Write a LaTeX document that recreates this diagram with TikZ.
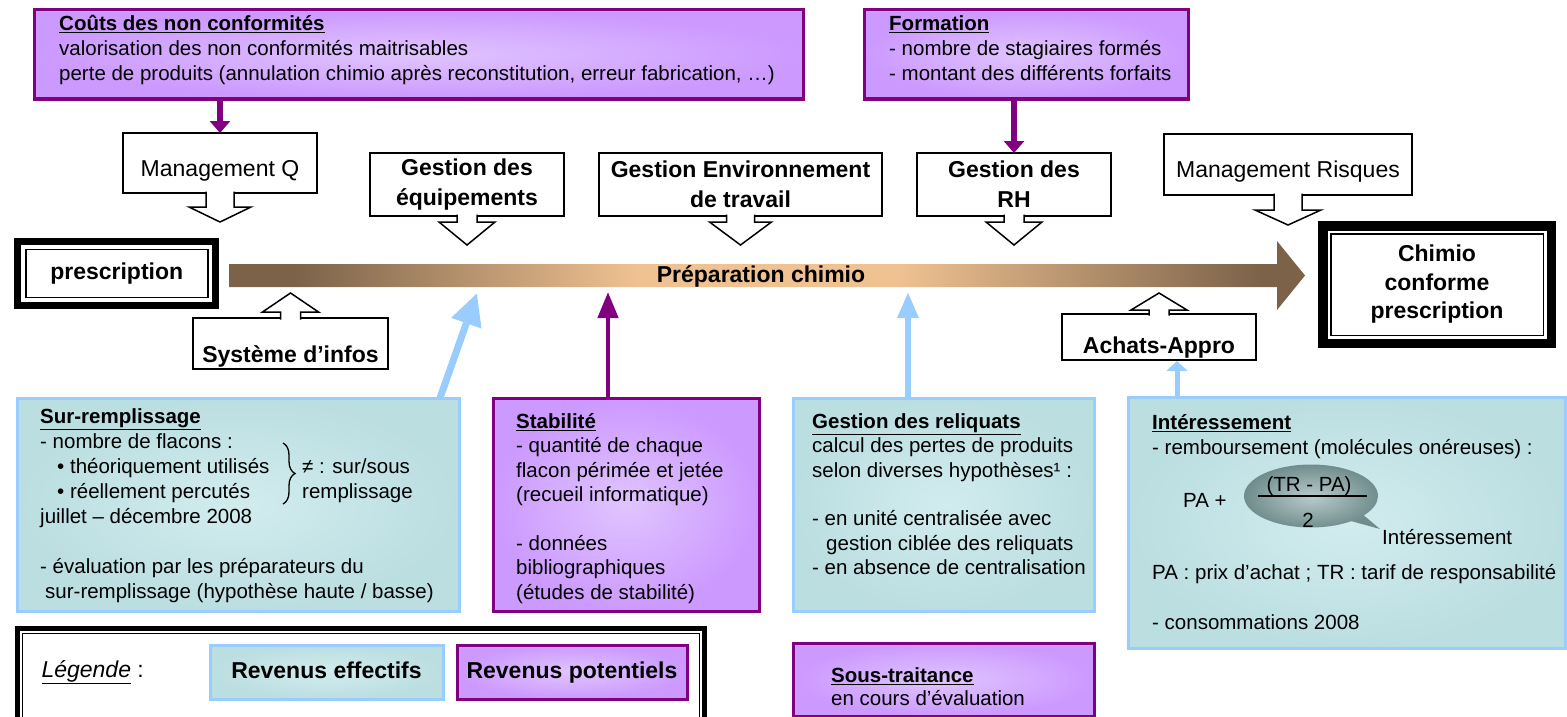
\documentclass[tikz,border=0pt]{standalone}
\usepackage{fontspec}
\setmainfont{Liberation Sans}
\usetikzlibrary{arrows.meta,shapes.callouts,decorations.pathreplacing}

\definecolor{prepdark}{RGB}{123,98,73}
\definecolor{preplight}{RGB}{240,194,146}
\pgfdeclarehorizontalshading{prepshade}{100bp}{color(0bp)=(prepdark); color(28bp)=(prepdark); color(44bp)=(preplight); color(56bp)=(preplight); color(73bp)=(prepdark); color(100bp)=(prepdark)}

% block arrow under / above a callout box: node, shaft half, head half, shaft, head
\newcommand{\downcall}[5]{%
  \path[draw,fill=white,line width=1.5pt] ([xshift=-#2pt,yshift=1.5pt]#1.south)
    -- ++(0,#4+1.5) -- ++(#2-#3,0) -- ++(#3,#5) -- ++(#3,-#5) -- ++(#2-#3,0) -- ++(0,-#4-1.5);}
\newcommand{\upcall}[5]{%
  \path[draw,fill=white,line width=1.5pt] ([xshift=-#2pt,yshift=-1.5pt]#1.north)
    -- ++(0,-#4-1.5) -- ++(#2-#3,0) -- ++(#3,-#5) -- ++(#3,#5) -- ++(#2-#3,0) -- ++(0,#4+1.5);}

\begin{document}
\begin{tikzpicture}[x=1pt,y=-1pt,
  pbox/.style={draw=violetdark, line width=3pt, inner color=violetlight, outer color=violetmid, inner sep=0pt, outer sep=0pt},
  bbox/.style={draw=skyline, line width=3pt, inner color=teallight, outer color=tealmid, inner sep=0pt, outer sep=0pt},
  txt/.style={font=\fontsize{20.5}{25}\selectfont, align=left, inner sep=0pt, anchor=north west},
  callbox/.style={draw, line width=1.5pt, fill=white, font=\fontsize{23}{30}\selectfont, align=center, inner sep=0pt, outer sep=0pt},
  framed/.style={draw, fill=white, inner sep=0pt, outer sep=0pt, font=\fontsize{23}{28.5}\selectfont\bfseries, align=center},
  legendkey/.style={minimum height=54pt, text height=17pt, text depth=5pt, font=\fontsize{23}{28}\selectfont\bfseries},
  purplearrow/.style={draw=violetdark, line width=6pt, -{Triangle[width=20pt,length=12pt]}},
  bluearrow/.style={draw=skyline, line width=6pt, -{Triangle[width=20pt,length=26pt]}}]
\definecolor{violetdark}{RGB}{128,0,128}
\definecolor{violetmid}{RGB}{204,153,255}
\definecolor{violetlight}{RGB}{224,196,255}
\definecolor{skyline}{RGB}{153,204,255}
\definecolor{tealmid}{RGB}{187,222,225}
\definecolor{teallight}{RGB}{210,236,238}
\definecolor{bubbledark}{RGB}{112,140,140}
\definecolor{bubblelight}{RGB}{184,204,204}

\useasboundingbox (0,0) rectangle (1567,717);

% revenue boxes
\node[pbox, minimum width=769pt, minimum height=89pt, anchor=north west] (couts) at (34,10) {};
\node[pbox, minimum width=324pt, minimum height=89pt, anchor=north west] (form) at (864,10) {};
\node[bbox, minimum width=442pt, minimum height=213pt, anchor=north west] (sur) at (17,398) {};
\node[pbox, minimum width=266pt, minimum height=213pt, anchor=north west] (stab) at (493,398) {};
\node[bbox, minimum width=301pt, minimum height=213pt, anchor=north west] (reliq) at (793,398) {};
\node[bbox, minimum width=437pt, minimum height=251pt, anchor=north west] (interess) at (1128,397) {};
\node[pbox, minimum width=301pt, minimum height=73pt, anchor=north west] (sous) at (793,643) {};

\node[txt] (coutstext) at (59,13) {\strut\underline{\textbf{Coûts des non conformités}}\\valorisation des non conformités maitrisables\\perte de produits (annulation chimio après reconstitution, erreur fabrication, …)};
\node[txt] (formtext) at (889,13) {\strut\underline{\textbf{Formation}}\\- nombre de stagiaires formés\\- montant des différents forfaits};
\node[txt] (surtext) at (40,406) {\strut\underline{\textbf{Sur-remplissage}}\\- nombre de flacons :\\\hspace*{17pt}• théoriquement utilisés\\\hspace*{17pt}• réellement percutés\\juillet – décembre 2008\\[25pt]- évaluation par les préparateurs du\\\hspace*{5pt}sur-remplissage (hypothèse haute / basse)};
\draw[decorate, decoration={brace, amplitude=12pt}, line width=1.3pt] (283,443) -- (283,504);
\node[txt] (ecart) at (302,456) {\strut≠ : sur/sous\\remplissage};
\node[txt, font=\fontsize{20.5}{24.4}\selectfont] (stabtext) at (516,411) {\strut\underline{\textbf{Stabilité}}\\- quantité de chaque\\flacon périmée et jetée\\(recueil informatique)\\[24.4pt]- données\\bibliographiques\\(études de stabilité)};
\node[txt, font=\fontsize{20.5}{24.4}\selectfont] (reliqtext) at (812,411) {\strut\underline{\textbf{Gestion des reliquats}}\\calcul des pertes de produits\\selon diverses hypothèses¹ :\\[24.4pt]- en unité centralisée avec\\\hspace*{14pt}gestion ciblée des reliquats\\- en absence de centralisation};
\node[txt] (interesstext) at (1152,412) {\strut\underline{\textbf{Intéressement}}\\- remboursement (molécules onéreuses) :\\[100pt]PA : prix d’achat ; TR : tarif de responsabilité\\[25pt]- consommations 2008};
\node[txt, anchor=west] (pa) at (1183,500) {PA +};
\node[ellipse callout, inner color=bubblelight, outer color=bubbledark, minimum width=134pt, minimum height=63pt, inner sep=0pt, callout absolute pointer={(1380,529)}] (bubble) at (1311,496) {};
\node[txt, anchor=center] (diff) at (1309,486) {(TR - PA)};
\node[txt, anchor=center] (half) at (1308,520) {2};
\draw[line width=1.5pt] ([xshift=-53pt]bubble.center) -- ([xshift=56pt]bubble.center);
\node[txt, anchor=west] (interesslabel) at (1382,537) {Intéressement};
\node[txt, font=\fontsize{20.5}{23}\selectfont] (soustext) at (831,666) {\strut\underline{\textbf{Sous-traitance}}\\en cours d’évaluation};

% main process arrow
\path[shading=prepshade] (229,264) -- (1277,264) -- (1277,241) -- (1305,275.5) -- (1277,310) -- (1277,287) -- (229,287) -- cycle;
\node[font=\fontsize{23}{28}\selectfont\bfseries] (prep) at (761,276) {Préparation chimio};

\node[framed, line width=7pt, minimum width=198pt, minimum height=64pt] (presc) at (116.75,273.5) {prescription};
\draw[line width=1.5pt] ([xshift=8pt,yshift=-8pt]presc.north west) rectangle ([xshift=-8pt,yshift=8pt]presc.south east);
\node[framed, line width=9.5pt, minimum width=228.5pt, minimum height=117.5pt] (chimio) at (1437,284.5) {Chimio\\conforme\\prescription};
\draw[line width=1.5pt] ([xshift=8pt,yshift=-8pt]chimio.north west) rectangle ([xshift=-8pt,yshift=8pt]chimio.south east);

% callouts
\node[callbox, minimum width=194pt, minimum height=60pt, text height=43pt, text depth=17pt] (mq) at (220,163) {Management Q};
\node[callbox, minimum width=194pt, minimum height=63pt, font=\fontsize{23}{30}\selectfont\bfseries] (equip) at (467,184.5) {Gestion des\\équipements};
\node[callbox, minimum width=283pt, minimum height=63pt, font=\fontsize{23}{30}\selectfont\bfseries] (env) at (740.5,184.5) {Gestion Environnement\\de travail};
\node[callbox, minimum width=194pt, minimum height=63pt, font=\fontsize{23}{30}\selectfont\bfseries] (rh) at (1014,184.5) {Gestion des\\RH};
\node[callbox, minimum width=248pt, minimum height=61pt, text height=43.5pt, text depth=17.5pt] (mr) at (1288,164.5) {Management Risques};
\node[callbox, minimum width=195pt, minimum height=51pt, text height=44pt, text depth=7pt, font=\fontsize{23}{30}\selectfont\bfseries] (si) at (290.5,343.5) {Système d’infos};
\node[callbox, minimum width=194pt, minimum height=46pt, text height=39pt, text depth=7pt, font=\fontsize{23}{30}\selectfont\bfseries] (achats) at (1159,337) {Achats-Appro};
\downcall{mq}{14}{31}{14}{15}
\downcall{equip}{10}{28}{6}{23}
\downcall{env}{14}{31}{6}{23}
\downcall{rh}{10}{28}{6}{23}
\downcall{mr}{14}{33}{15}{15}
\upcall{si}{10}{28}{6}{19}
\upcall{achats}{10}{28}{4}{17}

% links to the process
\coordinate (hitsur) at (477,293);
\coordinate (hitstab) at (608,292);
\coordinate (hitrel) at (908,292);
\coordinate (hitach) at (1177,361);
\path[purplearrow] (mq.north |- couts.south) -- (mq.north);
\path[purplearrow] (rh.north |- form.south) -- (rh.north);
\path[draw=skyline, line width=7pt, -{Triangle[width=30pt,length=32pt]}] ([xshift=-19pt]sur.north east) -- (hitsur);
\path[purplearrow, line width=4.5pt, -{Triangle[width=20pt,length=26pt]}] (hitstab |- stab.north) -- (hitstab);
\path[bluearrow] (hitrel |- reliq.north) -- (hitrel);
\path[bluearrow, line width=5pt, -{Triangle[width=21pt,length=10pt]}] (hitach |- interess.north) -- (hitach);

% legend
\node[framed, line width=5pt, minimum width=687pt, minimum height=100pt, anchor=north west] (legend) at (17.5,628.5) {};
\draw[line width=1pt] ([xshift=5pt,yshift=-5pt]legend.north west) rectangle ([xshift=-5pt,yshift=5pt]legend.south east);
\node[font=\fontsize{23}{28}\selectfont, anchor=west] (legendlabel) at (38,672) {\underline{\textit{Légende}} :};
\node[bbox, legendkey, minimum width=233pt] (effectifs) at (326.5,672) {Revenus effectifs};
\node[pbox, legendkey, minimum width=230pt] (potentiels) at (572,672) {Revenus potentiels};
\end{tikzpicture}
\end{document}
